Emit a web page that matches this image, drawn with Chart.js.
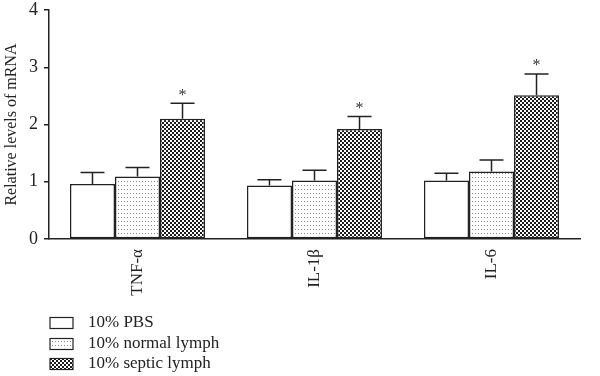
<!DOCTYPE html>
<html>
<head>
<meta charset="utf-8">
<script src="https://cdn.jsdelivr.net/npm/chart.js@4.4.1/dist/chart.umd.min.js"></script>
<style>
html,body{margin:0;padding:0;background:#fff;}
#wrap{width:600px;height:376px;position:relative;}
</style>
</head>
<body>
<div id="wrap"><canvas id="c" width="600" height="376"></canvas></div>
<script>
// ---- data ----
const categories = ['TNF-α', 'IL-1β', 'IL-6'];
const seriesNames = ['10% PBS', '10% normal lymph', '10% septic lymph'];
const pbsValues = [0.96, 0.935, 1.02];
const pbsErrors = [0.20, 0.10, 0.13];
const normalValues = [1.09, 1.02, 1.18];
const normalErrors = [0.16, 0.18, 0.20];
const septicValues = [2.10, 1.92, 2.51];
const septicErrors = [0.27, 0.22, 0.37];
const septicSignificant = [true, true, true];
const yTicks = [0, 1, 2, 3, 4];

// ---- patterns ----
function makePattern(w, h, draw) {
  const t = document.createElement('canvas');
  t.width = w; t.height = h;
  const g = t.getContext('2d');
  draw(g);
  return g.createPattern(t, 'repeat');
}
const dotPattern = makePattern(3, 4, g => {
  g.fillStyle = '#fff'; g.fillRect(0, 0, 3, 4);
  g.fillStyle = '#8a8a8a'; g.fillRect(1, 1, 1, 1);
});
const checkPattern = makePattern(4, 4, g => {
  g.fillStyle = '#fff'; g.fillRect(0, 0, 4, 4);
  g.fillStyle = '#1a1a1a'; g.fillRect(0, 0, 2, 2); g.fillRect(2, 2, 2, 2);
});
const fills = ['#ffffff', dotPattern, checkPattern];
const errs = [pbsErrors, normalErrors, septicErrors];

const FONT = '"Liberation Serif", "DejaVu Serif", serif';

const errorBarPlugin = {
  id: 'errorBars',
  afterDatasetsDraw(chart) {
    const ctx = chart.ctx;
    const y = chart.scales.y;
    ctx.save();
    ctx.strokeStyle = '#222';
    ctx.lineWidth = 1.5;
    chart.data.datasets.forEach((ds, di) => {
      const meta = chart.getDatasetMeta(di);
      meta.data.forEach((bar, i) => {
        const v = ds.data[i];
        const top = y.getPixelForValue(v + errs[di][i]);
        const base = y.getPixelForValue(v);
        ctx.beginPath();
        ctx.moveTo(bar.x, base);
        ctx.lineTo(bar.x, top);
        ctx.moveTo(bar.x - 12, top);
        ctx.lineTo(bar.x + 12, top);
        ctx.stroke();
        if (di === 2 && septicSignificant[i]) {
          ctx.fillStyle = '#333';
          ctx.font = '16px ' + FONT;
          ctx.textAlign = 'center';
          ctx.textBaseline = 'middle';
          ctx.fillText('*', bar.x, top - 8);
        }
      });
    });
    ctx.restore();
  }
};

const legendPlugin = {
  id: 'customLegend',
  afterDraw(chart) {
    const ctx = chart.ctx;
    ctx.save();
    const x0 = 50, rowY = [323, 344, 364];
    chart.data.datasets.forEach((ds, i) => {
      const cy = rowY[i];
      ctx.fillStyle = fills[i];
      ctx.fillRect(x0, cy - 5.5, 23, 11);
      ctx.strokeStyle = '#222';
      ctx.lineWidth = 1.2;
      ctx.strokeRect(x0, cy - 5.5, 23, 11);
      ctx.fillStyle = '#222';
      ctx.font = '17px ' + FONT;
      ctx.textAlign = 'left';
      ctx.textBaseline = 'middle';
      ctx.fillText(ds.label, 88, cy);
    });
    ctx.restore();
  }
};

new Chart(document.getElementById('c'), {
  type: 'bar',
  data: {
    labels: categories,
    datasets: [
      { label: seriesNames[0], data: pbsValues, backgroundColor: fills[0] },
      { label: seriesNames[1], data: normalValues, backgroundColor: fills[1] },
      { label: seriesNames[2], data: septicValues, backgroundColor: fills[2] }
    ].map(d => Object.assign(d, {
      borderColor: '#222', borderWidth: 1.5, borderSkipped: false,
      categoryPercentage: 0.763, barPercentage: 1.0
    }))
  },
  options: {
    responsive: false,
    animation: false,
    devicePixelRatio: 1,
    layout: { padding: { top: 10, right: 20, bottom: 77, left: 2 } },
    plugins: { legend: { display: false }, tooltip: { enabled: false } },
    scales: {
      x: {
        grid: { display: false },
        border: { display: true, color: '#222', width: 1.5 },
        ticks: {
          color: '#222', minRotation: 90, maxRotation: 90, padding: 2,
          font: { family: FONT, size: 17 }
        },
        afterFit(s) { s.height = 60; s.paddingLeft = 0; s.paddingRight = 0; }
      },
      y: {
        min: 0, max: 4,
        afterBuildTicks(s) { s.ticks = yTicks.map(v => ({ value: v })); },
        grid: { drawOnChartArea: false, drawTicks: true, tickLength: 5, color: '#222', lineWidth: 1.5 },
        border: { display: true, color: '#222', width: 1.5 },
        ticks: { color: '#222', padding: 6, font: { family: FONT, size: 18 } },
        title: { display: true, text: 'Relative levels of mRNA', color: '#222',
                 font: { family: FONT, size: 16 }, padding: { top: 0, bottom: 1 } },
        afterFit(s) { s.width = 47; s.paddingTop = 0; s.paddingBottom = 0; }
      }
    }
  },
  plugins: [errorBarPlugin, legendPlugin]
});
</script>
</body>
</html>
